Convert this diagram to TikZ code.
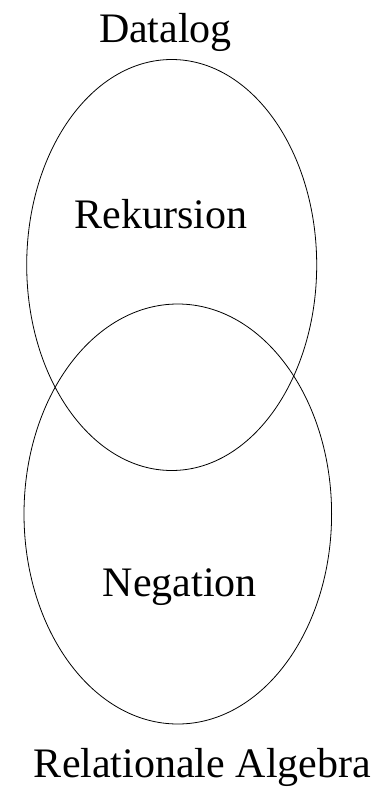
\documentclass[tikz,border=0pt]{standalone}
\usepackage{fontspec}
\setmainfont{Liberation Serif}
\usetikzlibrary{shapes.geometric}
\tikzstyle{menge} = [ellipse, draw=black, line width=0.8pt, inner sep=0pt]
\tikzstyle{beschrift} = [anchor=base, inner sep=0pt, font=\fontsize{42}{50}\selectfont]

\begin{document}
\begin{tikzpicture}[x=1pt, y=-1pt]
			
			\useasboundingbox (0,0) rectangle (382,793);
			
			% Mengen
			\node (datalog) [menge, minimum width=290pt, minimum height=411pt] at (171.7,265) {};
			\node (ra) [menge, minimum width=307.6pt, minimum height=420pt] at (177.8,514) {};
			
			% Beschriftungen
			\node (dltext) [beschrift] at (165.5,42) {Datalog};
			\node (rek) [beschrift] at (161,228.3) {Rekursion};
			\node (neg) [beschrift] at (179.7,596) {Negation};
			\node (ratext) [beschrift] at (202.5,777) {Relationale Algebra};
			
		\end{tikzpicture}
\end{document}
